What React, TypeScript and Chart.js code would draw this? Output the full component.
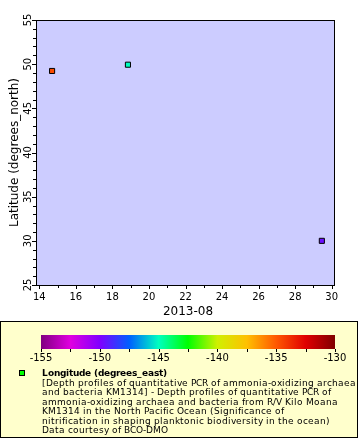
import { useEffect, useRef } from "react";
import { Chart, registerables } from "chart.js";

Chart.register(...registerables);

// Cruise KM1314 stations: day of August 2013, latitude, longitude
const days = [14.7, 18.85, 29.46];
const latitudes = [49.23, 49.94, 30.0];
const longitudes = [-134.6, -145.0, -149.6];

const xTicks = [14, 16, 18, 20, 22, 24, 26, 28, 30];
const xMinorTicks = [15, 17, 19, 21, 23, 25, 27, 29];
const yTicks = [25, 30, 35, 40, 45, 50, 55];
const yMinorTicks = [
  26, 27, 28, 29, 31, 32, 33, 34, 36, 37, 38, 39, 41, 42, 43, 44, 46, 47, 48, 49, 51, 52, 53, 54,
];

const colorbarTicks = [-155, -150, -145, -140, -135, -130];
const colorbarMinorTicks = [-152.5, -147.5, -142.5, -137.5, -132.5];

const xTitle = "2013-08";
const yTitle = "Latitude (degrees_north)";
const legendTitle = "Longitude (degrees_east)";
const legendLines = [
  "[Depth profiles of quantitative PCR of ammonia-oxidizing archaea",
  "and bacteria KM1314] - Depth profiles of quantitative PCR of",
  "ammonia-oxidizing archaea and bacteria from R/V Kilo Moana",
  "KM1314 in the North Pacific Ocean (Significance of",
  "nitrification in shaping planktonic biodiversity in the ocean)",
  "Data courtesy of BCO-DMO",
];

// Rainbow palette for longitude, stops every 2.5 degrees from -155 to -130
const paletteColors = [
  "#800080", "#e000e0", "#8000ff", "#0060ff", "#00ffc0", "#00ff00",
  "#d0f000", "#ffc000", "#ff5800", "#e00000", "#800000",
];
const paletteMin = -155;
const paletteMax = -130;

const FONT = '"DejaVu Sans", sans-serif';

function hexToRgb(h: string) {
  return [parseInt(h.slice(1, 3), 16), parseInt(h.slice(3, 5), 16), parseInt(h.slice(5, 7), 16)];
}

function paletteColor(v: number) {
  const t = Math.min(1, Math.max(0, (v - paletteMin) / (paletteMax - paletteMin)));
  const pos = t * (paletteColors.length - 1);
  const i = Math.min(paletteColors.length - 2, Math.floor(pos));
  const f = pos - i;
  const a = hexToRgb(paletteColors[i]);
  const b = hexToRgb(paletteColors[i + 1]);
  const c = a.map((av, k) => Math.round(av + (b[k] - av) * f));
  return `rgb(${c[0]},${c[1]},${c[2]})`;
}

// Text with whole-pixel glyph advances (small legend type)
function fillTextSnapped(ctx: CanvasRenderingContext2D, text: string, x: number, y: number) {
  let cx = x;
  for (const ch of text) {
    ctx.fillText(ch, cx, y);
    cx += Math.round(ctx.measureText(ch).width);
  }
}

const decorations = {
  id: "decorations",
  beforeDraw(chart: any) {
    const { ctx, chartArea: a } = chart;
    ctx.save();
    ctx.fillStyle = "#ffffff";
    ctx.fillRect(0, 0, chart.width, chart.height);
    ctx.fillStyle = "#ccccff";
    ctx.fillRect(a.left, a.top, a.right - a.left, a.bottom - a.top);
    ctx.restore();
  },
  afterDraw(chart: any) {
    const { ctx, chartArea: a } = chart;
    const xs = chart.scales.x;
    const ys = chart.scales.y;
    ctx.save();

    // frame
    ctx.strokeStyle = "#000";
    ctx.lineWidth = 1;
    ctx.strokeRect(a.left + 0.5, a.top + 0.5, a.right - a.left - 1, a.bottom - a.top);

    // tick marks
    ctx.beginPath();
    const xTick = (v: number, len: number) => {
      const px = Math.round(xs.getPixelForValue(v)) + 0.5;
      ctx.moveTo(px, a.bottom);
      ctx.lineTo(px, a.bottom + len);
    };
    const yTick = (v: number, len: number) => {
      const py = Math.round(ys.getPixelForValue(v)) + 0.5;
      ctx.moveTo(a.left, py);
      ctx.lineTo(a.left - len, py);
    };
    xTicks.forEach((v) => xTick(v, 4));
    xMinorTicks.forEach((v) => xTick(v, 3));
    yTicks.forEach((v) => yTick(v, 4));
    yMinorTicks.forEach((v) => yTick(v, 3));
    ctx.stroke();

    // rotated y tick labels
    ctx.fillStyle = "#000";
    ctx.font = `10px ${FONT}`;
    ctx.textAlign = "center";
    ctx.textBaseline = "alphabetic";
    yTicks.forEach((v) => {
      const py = ys.getPixelForValue(v);
      ctx.save();
      ctx.translate(31, py);
      ctx.rotate(-Math.PI / 2);
      ctx.fillText(String(v), 0, 0);
      ctx.restore();
    });

    // axis titles
    ctx.font = `12px ${FONT}`;
    ctx.fillText(xTitle, 188, 314.5);
    ctx.save();
    ctx.translate(18, (a.top + a.bottom) / 2);
    ctx.rotate(-Math.PI / 2);
    ctx.fillText(yTitle, 0, 0);
    ctx.restore();

    // legend panel
    const bx = 0.5, by = 321.5, bw = 357, bh = 116;
    ctx.fillStyle = "#ffffcc";
    ctx.fillRect(bx, by, bw, bh);
    ctx.strokeStyle = "#000";
    ctx.strokeRect(bx, by, bw, bh);

    // colorbar
    const cbL = 41, cbR = 335, cbT = 335, cbB = 349;
    const cbX = (v: number) => cbL + ((v - paletteMin) / (paletteMax - paletteMin)) * (cbR - cbL);
    const grad = ctx.createLinearGradient(cbL, 0, cbR, 0);
    paletteColors.forEach((c, i) => grad.addColorStop(i / (paletteColors.length - 1), c));
    ctx.fillStyle = grad;
    ctx.fillRect(cbL, cbT, cbR - cbL, cbB - cbT);
    ctx.beginPath();
    [...colorbarTicks, ...colorbarMinorTicks].forEach((v) => {
      const px = Math.round(cbX(v)) + 0.5;
      ctx.moveTo(px, cbB);
      ctx.lineTo(px, cbB + 3);
    });
    ctx.stroke();
    ctx.fillStyle = "#000";
    ctx.font = `10px ${FONT}`;
    ctx.textAlign = "center";
    colorbarTicks.forEach((v) => ctx.fillText(String(v), cbX(v), 361));

    // legend entry
    ctx.fillStyle = paletteColor(-142.5);
    ctx.fillRect(19.5, 370.5, 5, 5);
    ctx.strokeRect(19.5, 370.5, 5, 5);

    ctx.save();
    ctx.beginPath();
    ctx.rect(bx, by, bw, bh);
    ctx.clip();
    ctx.fillStyle = "#000";
    ctx.textAlign = "left";
    ctx.font = `bold 9px ${FONT}`;
    fillTextSnapped(ctx, legendTitle, 42, 376);
    ctx.font = `9px ${FONT}`;
    legendLines.forEach((line, i) => fillTextSnapped(ctx, line, 42, Math.round(385.5 + i * 9.5)));
    ctx.restore();

    ctx.restore();
  },
};

export default function App() {
  const canvasRef = useRef<HTMLCanvasElement | null>(null);

  useEffect(() => {
    const canvas = canvasRef.current;
    if (!canvas) return;
    Chart.defaults.font.family = FONT;
    const chart = new Chart(canvas, {
      type: "scatter",
      data: {
        datasets: [
          {
            data: days.map((d, i) => ({ x: d, y: latitudes[i] })),
            pointStyle: "rect",
            pointRadius: 3.6,
            pointHoverRadius: 3.6,
            pointBackgroundColor: longitudes.map(paletteColor),
            pointBorderColor: "#000",
            pointBorderWidth: 1,
          },
        ],
      },
      options: {
        animation: false,
        responsive: false,
        devicePixelRatio: 1,
        layout: { padding: { top: 20, right: 25, left: 0, bottom: 0 } },
        plugins: { legend: { display: false }, tooltip: { enabled: false } },
        events: [],
        scales: {
          x: {
            type: "linear",
            min: 13.82,
            max: 30.18,
            afterBuildTicks: (s: any) => {
              s.ticks = xTicks.map((v) => ({ value: v }));
            },
            afterFit: (s: any) => {
              s.height = 155;
            },
            grid: { display: false, drawTicks: false },
            border: { display: false },
            ticks: {
              color: "#000",
              font: { size: 10, family: FONT },
              padding: 6,
              maxRotation: 0,
              minRotation: 0,
              autoSkip: false,
            },
          },
          y: {
            type: "linear",
            min: 25,
            max: 55,
            afterBuildTicks: (s: any) => {
              s.ticks = yTicks.map((v) => ({ value: v }));
            },
            afterFit: (s: any) => {
              s.width = 36;
            },
            grid: { display: false, drawTicks: false },
            border: { display: false },
            ticks: { display: false },
          },
        },
      },
      plugins: [decorations],
    });
    return () => chart.destroy();
  }, []);

  return (
    <div style={{ position: "absolute", left: 0, top: 0, width: 360, height: 440 }}>
      <canvas ref={canvasRef} width={360} height={440} style={{ display: "block" }} />
    </div>
  );
}
